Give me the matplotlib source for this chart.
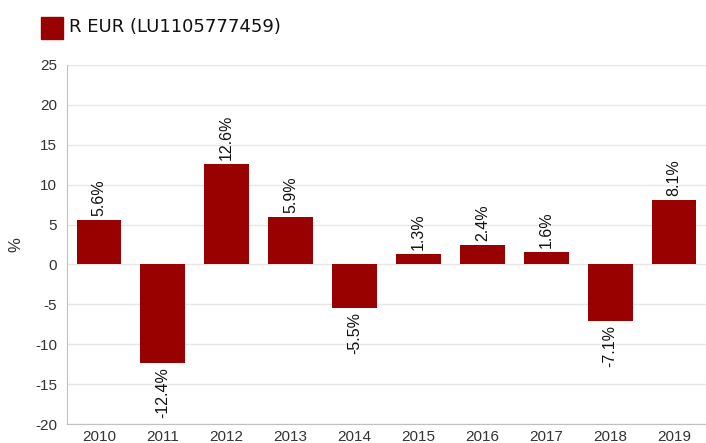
import matplotlib
matplotlib.use("Agg")
import matplotlib.pyplot as plt
from matplotlib.patches import Rectangle

plt.rcParams["axes.unicode_minus"] = False

years = ["2010", "2011", "2012", "2013", "2014", "2015", "2016", "2017", "2018", "2019"]
values = [5.6, -12.4, 12.6, 5.9, -5.5, 1.3, 2.4, 1.6, -7.1, 8.1]
series_name = "R EUR (LU1105777459)"
bar_color = "#990000"

W, H = 706, 443
fig = plt.figure(figsize=(W / 100, H / 100), dpi=100)
ax = fig.add_axes([67 / W, 1 - 424 / H, (706 - 67) / W, (424 - 65) / H])

x = list(range(len(years)))
ax.bar(x, values, width=0.7, color=bar_color, zorder=3)
ax.set_xlim(-0.5, len(years) - 0.5)
ax.set_ylim(-20, 25)
ax.set_yticks(range(-20, 26, 5))
ax.set_xticks(x)
ax.set_xticklabels(years)
ax.yaxis.grid(True, color="#e6e6e6", linewidth=1, zorder=0)
ax.set_axisbelow(True)
for s in ["top", "right"]:
    ax.spines[s].set_visible(False)
for s in ["left", "bottom"]:
    ax.spines[s].set_color("#c0c0c0")
ax.tick_params(axis="both", length=0, labelsize=11, colors="#333333", labelfontfamily="Liberation Sans")
ax.tick_params(axis="y", pad=7)
ax.tick_params(axis="x", pad=4)
ax.set_ylabel("%", fontsize=12, family="Liberation Sans", color="#333333")
ax.yaxis.set_label_coords((23 - 67) / (706 - 67), (424 - 245) / (424 - 65))

for xi, v in zip(x, values):
    label = f"{v:.1f}%"
    if v >= 0:
        ax.annotate(label, (xi, v), xytext=(0, 3), textcoords="offset points",
                    rotation=90, ha="center", va="bottom", fontsize=11.5,
                    family="Liberation Sans", color="#111111")
    else:
        ax.annotate(label, (xi, v), xytext=(0, -3), textcoords="offset points",
                    rotation=90, ha="center", va="top", fontsize=11.5,
                    family="Liberation Sans", color="#111111")

# legend
fig.patches.append(Rectangle((41 / W, 1 - 39 / H), 22 / W, 22 / H,
                             transform=fig.transFigure, color=bar_color))
fig.text(69 / W, 1 - 27 / H, series_name, fontsize=13, family="DejaVu Sans",
         va="center", ha="left", color="#111111")

fig.savefig("out.png", dpi=100)
